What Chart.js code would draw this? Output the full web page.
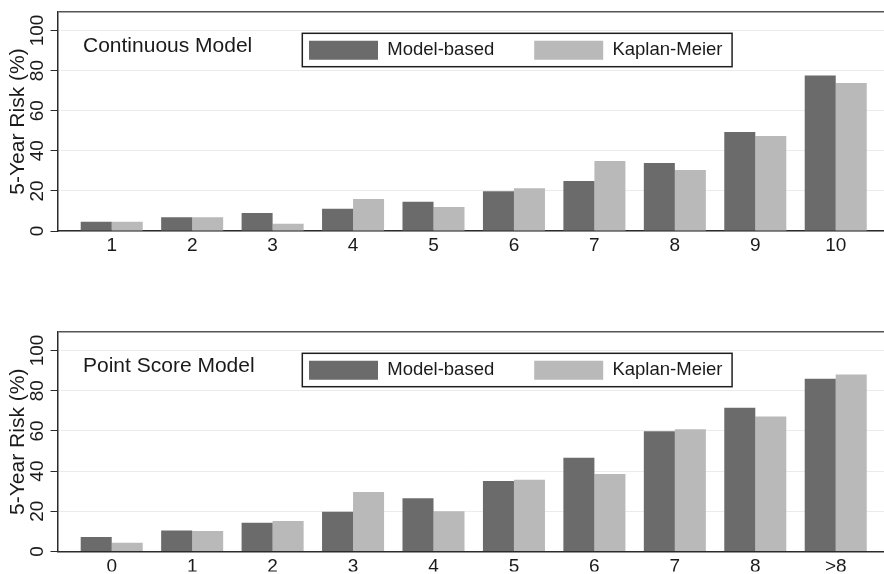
<!DOCTYPE html>
<html><head><meta charset="utf-8">
<script src="https://cdn.jsdelivr.net/npm/chart.js@4/dist/chart.umd.min.js"></script>
<style>
html,body{margin:0;padding:0;background:#fff;}
#wrap{position:relative;width:884px;height:574px;overflow:hidden;}
.panel{position:absolute;left:0;width:884px;height:287px;}
</style></head><body>
<div id="wrap">
<div class="panel" style="top:0"><canvas id="c1" width="884" height="287"></canvas></div>
<div class="panel" style="top:287px"><canvas id="c2" width="884" height="287"></canvas></div>
</div>
<script>
// ---- data ----
const seriesNames = ['Model-based', 'Kaplan-Meier'];
const yAxisTitle = '5-Year Risk (%)';

const continuousTitle = 'Continuous Model';
const continuousCategories = ['1','2','3','4','5','6','7','8','9','10'];
const continuousModelBased = [4.6, 6.8, 9.0, 11.1, 14.6, 19.8, 24.9, 33.9, 49.4, 77.5];
const continuousKaplanMeier = [4.6, 6.8, 3.6, 16.0, 12.0, 21.3, 34.9, 30.4, 47.4, 73.8];

const pointTitle = 'Point Score Model';
const pointCategories = ['0','1','2','3','4','5','6','7','8','>8'];
const pointModelBased = [7.2, 10.5, 14.3, 19.8, 26.5, 35.1, 46.7, 59.8, 71.5, 86.0];
const pointKaplanMeier = [4.4, 10.2, 15.2, 29.6, 20.0, 35.7, 38.6, 60.8, 67.2, 88.0];

const yTicks = [0, 20, 40, 60, 80, 100];
const yTop = 109.2;

// ---- rendering ----
Chart.defaults.font.family = "'Liberation Sans', Arial, Helvetica, sans-serif";
Chart.defaults.color = '#1a1a1a';

const DARK = '#6b6b6b', LIGHT = '#b9b9b9', AXIS = '#2b2b2b';

const panelTitlePlugin = {
  id: 'panelTitle',
  afterDraw(chart, args, opts) {
    const a = chart.chartArea, ctx = chart.ctx;
    ctx.save();
    ctx.font = "21px 'Liberation Sans', Arial, sans-serif";
    ctx.fillStyle = '#1a1a1a';
    ctx.textBaseline = 'middle';
    ctx.textAlign = 'left';
    ctx.fillText(opts.text, a.left + 25.5, a.top + 34);
    ctx.restore();
  }
};

const legendPlacePlugin = {
  id: 'legendPlace',
  beforeDraw(chart) {
    const lg = chart.legend, a = chart.chartArea;
    const pad = lg.options.labels.padding;
    lg.left = a.left + 251.5 - pad;
    lg.right = chart.width;
    lg.top = a.top + 28.7 - pad;
    lg.bottom = lg.top + pad + 60;
    lg.width = lg.right - lg.left;
    lg.height = lg.bottom - lg.top;
  },
  afterDraw(chart) {
    const lg = chart.legend, a = chart.chartArea, ctx = chart.ctx;
    const pad = lg.options.labels.padding;
    const hb = lg.legendHitBoxes;
    const firstX = lg.left + pad;
    let endX = firstX;
    hb.forEach((h, i) => { endX += h.width + (i < hb.length - 1 ? pad : 0); });
    const boxTop = a.top + 28.7;
    const x0 = firstX - 6.7, y0 = boxTop - 7.4;
    const x1 = endX + 9.6, y1 = y0 + 33.4;
    ctx.save();
    ctx.strokeStyle = '#1f1f1f';
    ctx.lineWidth = 1.5;
    ctx.strokeRect(x0, y0, x1 - x0, y1 - y0);
    ctx.restore();
  }
};

function toPoints(values) { return values.map((v, i) => ({ x: i + 1, y: v })); }

function makeChart(id, title, categories, mb, km, padTop, xHeight, padBottom, xPad) {
  return new Chart(document.getElementById(id), {
    type: 'bar',
    data: {
      datasets: [
        { label: seriesNames[0], data: toPoints(mb), backgroundColor: DARK, borderWidth: 0,
          categoryPercentage: 0.771, barPercentage: 1 },
        { label: seriesNames[1], data: toPoints(km), backgroundColor: LIGHT, borderWidth: 0,
          categoryPercentage: 0.771, barPercentage: 1 }
      ]
    },
    plugins: [panelTitlePlugin, legendPlacePlugin],
    options: {
      responsive: false,
      animation: false,
      devicePixelRatio: 1,
      layout: { padding: { top: padTop, bottom: padBottom, left: 0, right: 0 } },
      plugins: {
        tooltip: { enabled: false },
        panelTitle: { text: title },
        legend: {
          display: true, position: 'top', align: 'start', maxHeight: 0.01,
          labels: { boxWidth: 69, boxHeight: 19, padding: 40, color: '#1a1a1a',
                    font: { size: 18.5 } }
        }
      },
      scales: {
        x: {
          type: 'linear', min: 0.326, max: 10.6, offset: false, bounds: 'data',
          grid: { display: false, drawTicks: false, offset: false },
          border: { display: true, color: AXIS, width: 1.5 },
          afterBuildTicks: s => { s.ticks = categories.map((_, i) => ({ value: i + 1 })); },
          ticks: { autoSkip: false, minRotation: 0, maxRotation: 0, padding: xPad,
                   color: '#1a1a1a', font: { size: 19 },
                   callback: v => categories[Math.round(v) - 1] ?? '' },
          afterFit: s => { s.height = xHeight; }
        },
        y: {
          type: 'linear', min: 0, max: yTop, bounds: 'data',
          afterBuildTicks: s => { s.ticks = yTicks.concat([yTop]).map(v => ({ value: v })); },
          grid: {
            color: c => (c.tick && c.tick.value === yTop) ? '#555555' : '#ebebeb',
            lineWidth: c => (c.tick && c.tick.value === yTop) ? 1.5 : 1,
            tickColor: c => (c.tick && c.tick.value === yTop) ? 'rgba(0,0,0,0)' : AXIS,
            tickLength: 7, drawTicks: true
          },
          border: { display: true, color: AXIS, width: 1.5 },
          ticks: { minRotation: 90, maxRotation: 90, crossAlign: 'center', padding: -3.4,
                   color: '#1a1a1a', font: { size: 19 },
                   callback: v => yTicks.includes(v) ? String(v) : '' },
          title: { display: true, text: yAxisTitle, color: '#1a1a1a', font: { size: 21 },
                   padding: { top: 5.4, bottom: 0 } },
          afterFit: s => { s.width = 57.5; }
        }
      }
    }
  });
}

makeChart('c1', continuousTitle, continuousCategories, continuousModelBased, continuousKaplanMeier, 12, 30, 26, 3);
makeChart('c2', pointTitle, pointCategories, pointModelBased, pointKaplanMeier, 45, 20, 2.5, 3.5);
</script>
</body></html>
